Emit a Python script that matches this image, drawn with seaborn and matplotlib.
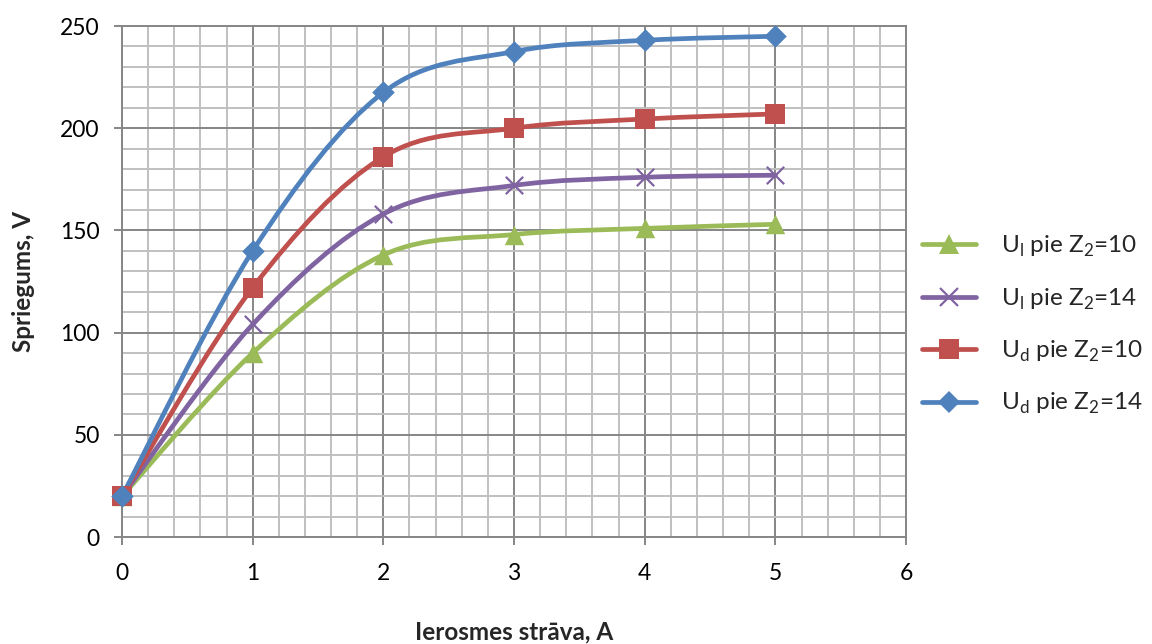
import matplotlib
matplotlib.use("Agg")
import matplotlib.pyplot as plt
from matplotlib.path import Path
from matplotlib.patches import PathPatch
from matplotlib.lines import Line2D
import seaborn as sns
import numpy as np

# ── Data ─────────────────────────────────────────────────────────────────────
current = [0, 1, 2, 3, 4, 5]
ul_z10 = [20, 90, 138, 148, 151, 153]
ul_z14 = [20, 104, 158, 172, 176, 177]
ud_z10 = [20, 122, 186, 200, 204.5, 207]
ud_z14 = [20, 140, 217.5, 237.5, 243, 245]

labels = [r"U$_\mathregular{l}$ pie Z$_\mathregular{2}$=10",
          r"U$_\mathregular{l}$ pie Z$_\mathregular{2}$=14",
          r"U$_\mathregular{d}$ pie Z$_\mathregular{2}$=10",
          r"U$_\mathregular{d}$ pie Z$_\mathregular{2}$=14"]

GREEN  = "#9BBB59"
PURPLE = "#8064A2"
RED    = "#C0504D"
BLUE   = "#4F81BD"
MAJOR_C = "#868686"
MINOR_C = "#C0C0C0"

sns.set_theme(style="white")
plt.rcParams["font.family"] = ["Lato", "DejaVu Sans"]
plt.rcParams["mathtext.fontset"] = "custom"
plt.rcParams["mathtext.rm"] = "Lato"


def smooth_path(xs, ys):
    # Excel-style smoothed line: cubic Bezier through the points
    pts = np.column_stack([xs, ys]).astype(float)
    n = len(pts)
    verts = [pts[0]]
    codes = [Path.MOVETO]
    for i in range(n - 1):
        p0 = pts[max(i - 1, 0)]
        p1 = pts[i]
        p2 = pts[i + 1]
        p3 = pts[min(i + 2, n - 1)]
        verts += [p1 + (p2 - p0) / 6, p2 - (p3 - p1) / 6, p2]
        codes += [Path.CURVE4] * 3
    return Path(verts, codes)


fig = plt.figure(figsize=(11.52, 6.44), dpi=100)
fig.patch.set_facecolor("white")
ax = fig.add_axes([0.1059, 0.1661, 0.6806, 0.7935])

series = [
    (ul_z10, GREEN, "^", 14, 0),
    (ul_z14, PURPLE, "x", 12.5, 1.6),
    (ud_z10, RED, "s", 14.5, 0),
    (ud_z14, BLUE, "D", 11.5, 0),
]

handles = []
for (vals, color, marker, ms, mew), lab in zip(series, labels):
    ax.add_patch(PathPatch(smooth_path(current, vals), fill=False,
                           edgecolor=color, lw=3.4, capstyle="round",
                           joinstyle="round", zorder=3))
    if marker == "x":
        sns.scatterplot(x=current, y=vals, marker="x", s=ms ** 2, color=color,
                        linewidth=mew, ax=ax, zorder=4, clip_on=False)
    else:
        sns.scatterplot(x=current, y=vals, marker=marker, s=ms ** 2, color=color,
                        linewidth=0, ax=ax, zorder=4, clip_on=False)
    handles.append(Line2D([], [], color=color, lw=3.4, marker=marker,
                          markersize=ms, markeredgewidth=mew if mew else 0,
                          solid_capstyle="round", label=lab))

ax.set_xlim(0, 6)
ax.set_ylim(0, 250)
ax.set_xticks(range(0, 7))
ax.set_yticks(range(0, 251, 50))
ax.set_xticks(np.arange(0, 6.01, 0.2), minor=True)
ax.set_yticks(range(0, 251, 10), minor=True)
ax.grid(which="minor", color=MINOR_C, lw=1.4, zorder=0)
ax.grid(which="major", color=MAJOR_C, lw=1.4, zorder=1)
ax.set_axisbelow(True)
for sp in ax.spines.values():
    sp.set_edgecolor(MAJOR_C)
    sp.set_linewidth(1.4)
ax.tick_params(which="major", length=6, width=1.4, color=MAJOR_C,
               labelsize=16.5, labelcolor="black", direction="out")
ax.tick_params(which="minor", length=0)
ax.tick_params(axis="x", pad=13, bottom=True)
ax.tick_params(axis="y", pad=10, left=True)
ax.set_xlabel("")
ax.set_ylabel("")

fig.text(0.446, 0.0186, "Ierosmes strāva, A", ha="center", va="center",
         fontsize=17.5, fontweight="bold")
fig.text(0.0208, 0.5637, "Spriegums, V", ha="center", va="center",
         rotation=90, fontsize=17.5, fontweight="bold")

fig.legend(handles=handles, loc="center left", bbox_to_anchor=(0.800, 0.495),
           frameon=False, fontsize=17.5, handlelength=2.25, handletextpad=1.0,
           labelspacing=1.12, borderaxespad=0, borderpad=0)

fig.savefig("out.png", dpi=100, facecolor="white")
